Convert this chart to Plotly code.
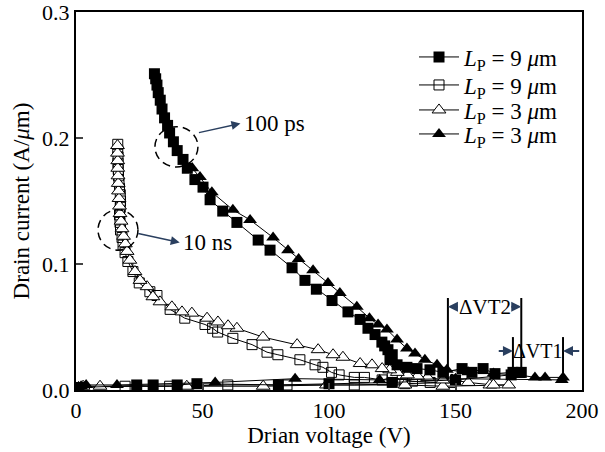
import plotly.graph_objects as go

# Lp = 9 um, 100 ps (filled squares)
sq_fill_v = [1, 24, 30.5, 40, 47.8, 80, 100, 125, 150, 172, 176, 172.7, 165.6, 160.9, 156.5, 152.6, 145, 139.9,
             134.8, 130.8, 126.9, 124.1, 125, 123.3, 122, 120.9, 118.2, 115.4, 112.3, 107.5, 101.2, 95, 90.5,
             85.4, 76.7, 72, 63.6, 58, 53, 50.2, 47, 44, 42.3, 40, 38.5, 37, 36.2, 35, 34, 33.3, 32.5, 32, 31.5, 31]
sq_fill_i = [0.002, 0.004, 0.004, 0.004, 0.005, 0.004, 0.005, 0.006, 0.008, 0.012, 0.014, 0.014, 0.013, 0.017,
             0.014, 0.017, 0.014, 0.016, 0.017, 0.018, 0.020, 0.024, 0.028, 0.032, 0.035, 0.038, 0.044, 0.049,
             0.056, 0.062, 0.071, 0.080, 0.087, 0.097, 0.111, 0.119, 0.133, 0.142, 0.151, 0.161, 0.167, 0.176,
             0.183, 0.190, 0.197, 0.204, 0.210, 0.216, 0.223, 0.230, 0.236, 0.242, 0.247, 0.251]

# Lp = 9 um, 10 ns (open squares)
sq_open_v = [1, 19.4, 37, 60, 83.4, 110, 130, 148, 140, 133, 125, 121, 114, 110, 104, 101, 97.6, 94.5, 88.5,
             79.8, 75.5, 69.6, 62, 56, 54, 51, 43, 37.2, 32, 29.2, 25, 22.5, 20.5, 19.4, 18.6, 18.2, 17.6, 17.4,
             17.2, 17.5, 17.6, 17.5, 17.2, 17, 16.8, 16.7, 16.6, 16.6, 16.5, 16.5]
sq_open_i = [0.002, 0.003, 0.003, 0.004, 0.004, 0.004, 0.005, 0.006, 0.006, 0.007, 0.010, 0.008, 0.010, 0.010,
             0.012, 0.014, 0.018, 0.020, 0.024, 0.028, 0.030, 0.036, 0.041, 0.046, 0.049, 0.052, 0.057, 0.064,
             0.075, 0.078, 0.085, 0.094, 0.102, 0.109, 0.115, 0.121, 0.127, 0.133, 0.139, 0.145, 0.150, 0.155,
             0.160, 0.165, 0.170, 0.175, 0.180, 0.185, 0.190, 0.195]

# Lp = 3 um, 10 ns (open triangles)
tri_open_v = [1, 2.8, 9.5, 43.8, 74, 99, 130, 145, 163.6, 171, 165, 155, 148.6, 145, 139, 135, 131, 127, 124,
              121, 117, 112.3, 105.5, 101.6, 95.7, 87.4, 73.9, 63.6, 60.1, 56.1, 51.8, 45.8, 41.9, 37.9, 33.2,
              30.4, 28.1, 25.3, 23.3, 21.3, 20.2, 19.5, 18.8, 18.2, 17.8, 17.4, 17.2, 17, 16.8, 16.7, 16.6, 16.5,
              16.5, 16.4, 16.4]
tri_open_i = [0.002, 0.003, 0.003, 0.003, 0.003, 0.004, 0.004, 0.003, 0.004, 0.004, 0.004, 0.006, 0.008, 0.008,
              0.010, 0.011, 0.012, 0.014, 0.016, 0.017, 0.020, 0.021, 0.026, 0.028, 0.032, 0.036, 0.042, 0.049,
              0.051, 0.054, 0.057, 0.061, 0.062, 0.066, 0.070, 0.074, 0.082, 0.087, 0.094, 0.103, 0.110, 0.116,
              0.122, 0.128, 0.134, 0.140, 0.146, 0.152, 0.158, 0.164, 0.170, 0.176, 0.182, 0.188, 0.194]

# Lp = 3 um, 100 ps (filled triangles)
tri_fill_v = [2, 4, 16.2, 55, 86.6, 120, 150, 192, 192.5, 185.4, 181.4, 175, 165, 155, 146.6, 142.7, 137.9, 134,
              130.8, 126.9, 122.9, 119.4, 116, 111, 104.3, 99.6, 93.7, 88, 83.8, 77.9, 68.8, 62, 53.7, 49, 46]
tri_fill_i = [0.003, 0.004, 0.004, 0.006, 0.009, 0.008, 0.009, 0.008, 0.010, 0.010, 0.010, 0.012, 0.013, 0.014,
              0.016, 0.020, 0.024, 0.029, 0.033, 0.040, 0.048, 0.052, 0.057, 0.066, 0.077, 0.085, 0.095, 0.104,
              0.111, 0.121, 0.135, 0.143, 0.157, 0.169, 0.176]

x_ticks = [0, 50, 100, 150, 200]
y_ticks = [0.0, 0.1, 0.2, 0.3]

FONT = "Liberation Serif"
lp9 = "<i>L</i><sub>P</sub> = 9 <i>μ</i>m"
lp3 = "<i>L</i><sub>P</sub> = 3 <i>μ</i>m"

fig = go.Figure()
fig.add_trace(go.Scatter(x=sq_open_v, y=sq_open_i, mode="lines+markers", name=lp9, legend="legend2",
                         line=dict(color="black", width=1),
                         marker=dict(symbol="square-open", size=10, color="black", line=dict(width=1))))
fig.add_trace(go.Scatter(x=tri_open_v, y=tri_open_i, mode="lines+markers", name=lp3, legend="legend3",
                         line=dict(color="black", width=1),
                         marker=dict(symbol="triangle-up", size=12, color="white", line=dict(width=1, color="black"))))
fig.add_trace(go.Scatter(x=tri_fill_v, y=tri_fill_i, mode="lines+markers", name=lp3, legend="legend4",
                         line=dict(color="black", width=1),
                         marker=dict(symbol="triangle-up", size=12, color="black", line=dict(width=0))))
fig.add_trace(go.Scatter(x=sq_fill_v, y=sq_fill_i, mode="lines+markers", name=lp9, legend="legend",
                         line=dict(color="black", width=1),
                         marker=dict(symbol="square", size=11, color="black", line=dict(width=0))))

shapes = [
    dict(type="circle", xref="x", yref="y", x0=31.2, x1=48.2, y0=0.177, y1=0.209,
         line=dict(color="black", width=1.5, dash="8px,5px")),
    dict(type="circle", xref="x", yref="y", x0=8.7, x1=24.5, y0=0.111, y1=0.143,
         line=dict(color="black", width=1.5, dash="8px,5px")),
    dict(type="line", xref="x", yref="y", x0=147, x1=147, y0=0.008, y1=0.073, line=dict(color="black", width=2)),
    dict(type="line", xref="x", yref="y", x0=176, x1=176, y0=0.012, y1=0.073, line=dict(color="black", width=2)),
    dict(type="line", xref="x", yref="y", x0=172.7, x1=172.7, y0=0.016, y1=0.042, line=dict(color="black", width=2)),
    dict(type="line", xref="x", yref="y", x0=192.5, x1=192.5, y0=0.012, y1=0.042, line=dict(color="black", width=2)),
]

annotations = [
    dict(x=65, y=0.2115, ax=48, ay=0.204, xref="x", yref="y", axref="x", ayref="y", text="",
         showarrow=True, arrowhead=2, arrowsize=1.2, arrowwidth=1.5),
    dict(x=65.5, y=0.2115, text="100 ps", showarrow=False, xanchor="left", yanchor="middle",
         font=dict(size=23, family=FONT, color="black")),
    dict(x=41, y=0.117, ax=24, ay=0.1245, xref="x", yref="y", axref="x", ayref="y", text="",
         showarrow=True, arrowhead=2, arrowsize=1.2, arrowwidth=1.5),
    dict(x=41.5, y=0.117, text="10 ns", showarrow=False, xanchor="left", yanchor="middle",
         font=dict(size=23, family=FONT, color="black")),
    dict(x=161.5, y=0.066, text="ΔVT2", showarrow=False, font=dict(size=21, family=FONT, color="black")),
    dict(x=147, y=0.066, ax=151.5, ay=0.066, xref="x", yref="y", axref="x", ayref="y", text="",
         showarrow=True, arrowhead=2, arrowsize=1, arrowwidth=2),
    dict(x=176, y=0.066, ax=171.5, ay=0.066, xref="x", yref="y", axref="x", ayref="y", text="",
         showarrow=True, arrowhead=2, arrowsize=1, arrowwidth=2),
    dict(x=182.6, y=0.031, text="ΔVT1", showarrow=False, font=dict(size=20, family=FONT, color="black")),
    dict(x=172.7, y=0.031, ax=166.5, ay=0.031, xref="x", yref="y", axref="x", ayref="y", text="",
         showarrow=True, arrowhead=2, arrowsize=1, arrowwidth=2),
    dict(x=192.5, y=0.031, ax=199.5, ay=0.031, xref="x", yref="y", axref="x", ayref="y", text="",
         showarrow=True, arrowhead=2, arrowsize=1, arrowwidth=2),
]

def leg(yc):
    return dict(x=0.668, y=yc, xanchor="left", yanchor="middle", bgcolor="rgba(0,0,0,0)",
                font=dict(size=23, family=FONT, color="black"), itemwidth=40, borderwidth=0)

fig.update_layout(
    width=605, height=452,
    margin=dict(l=76, r=23, t=12, b=62),
    paper_bgcolor="white", plot_bgcolor="white",
    font=dict(family=FONT, size=22, color="black"),
    showlegend=True,
    legend=leg((390 - 57) / 378),
    legend2=leg((390 - 85) / 378),
    legend3=leg((390 - 110) / 378),
    legend4=leg((390 - 134) / 378),
    shapes=shapes, annotations=annotations,
)
fig.update_xaxes(range=[0, 200], tickvals=x_ticks, ticks="inside", ticklen=7, tickwidth=1.5, automargin=False,
                 ticklabeloverflow="allow",
                 showline=True, linecolor="black", linewidth=2, mirror=True, showgrid=False, zeroline=False,
                 title=dict(text="Drian voltage (V)", standoff=4, font=dict(size=23, family=FONT)),
                 tickfont=dict(size=22, family=FONT))
fig.update_yaxes(range=[0, 0.3], tickvals=y_ticks, tickformat=".1f", ticks="inside", ticklen=7, tickwidth=1.5,
                 automargin=False, ticklabeloverflow="allow",
                 showline=True, linecolor="black", linewidth=2, mirror=True, showgrid=False, zeroline=False,
                 title=dict(text="Drain current (A/<i>μ</i>m)", standoff=6, font=dict(size=23, family=FONT)),
                 tickfont=dict(size=22, family=FONT))

fig.write_html("out.html")
